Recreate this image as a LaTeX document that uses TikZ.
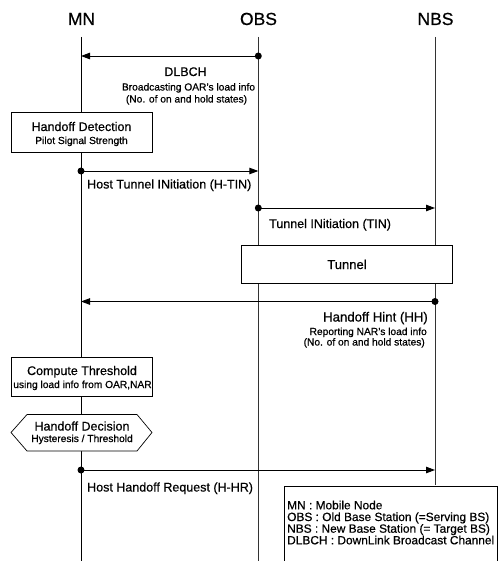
\documentclass[tikz,border=0pt]{standalone}
\usepackage{fontspec}
\setmainfont{Liberation Sans}[FakeBold=0.6]
\usetikzlibrary{arrows.meta}
\begin{document}
\begin{tikzpicture}[x=1pt,y=-1pt,
  head/.style={font=\fontsize{17.5}{20}\selectfont, inner sep=0, anchor=base},
  lbl/.style={font=\fontsize{12.5}{15}\selectfont, inner sep=0, anchor=base west},
  lblc/.style={font=\fontsize{12.5}{15}\selectfont, inner sep=0, anchor=base},
  sml/.style={font=\fontsize{10.2}{12}\selectfont, inner sep=0, anchor=base},
  leg/.style={font=\fontsize{11.9}{14}\selectfont, inner sep=0, anchor=base west},
  life/.style={line width=0.8pt},
  life2/.style={line width=0.6pt, black!80},
  box/.style={draw, line width=0.7pt, fill=white, inner sep=0},
  msg/.style={line width=0.9pt, -{Triangle[length=9pt,width=6.5pt]}},
  dot/.style={circle, fill=black, inner sep=0, minimum size=7pt},
]
\useasboundingbox (0,0) rectangle (498,561);
\clip (0,0) rectangle (498,561);
\fill[white] (0,0) rectangle (498,561);

% headers
\node[head] (hMN) at (81.5,25) {MN};
\node[head] (hOBS) at (258.5,25) {OBS};
\node[head] (hNBS) at (435.5,25) {NBS};

% lifeline coordinates
\coordinate (mnT) at (81,37);   \coordinate (mnB) at (81,561);
\coordinate (obT) at (258.3,37); \coordinate (obB) at (258.3,561);
\coordinate (nbT) at (435,37);  \coordinate (nbB) at (435,485);
\draw[life] (mnT) -- (mnB);
\draw[life2] (obT) -- (obB);
\draw[life2] (nbT) -- (nbB);

% boxes
\node[box, minimum width=141pt, minimum height=40pt] (hd) at (81.5,132) {};
\node[lblc] (hdt) at (81.5,131) {Handoff Detection};
\node[sml] (hds) at (81.5,144) {Pilot Signal Strength};

\node[box, minimum width=211pt, minimum height=38pt] (tun) at (346.5,264) {};
\node[font=\fontsize{13}{15}\selectfont, inner sep=0, anchor=base] (tunt) at (347,269) {Tunnel};

\node[box, minimum width=141pt, minimum height=39pt] (ct) at (81.5,376.5) {};
\node[lblc] (ctt) at (82,375) {Compute Threshold};
\node[sml] (cts) at (82.5,388) {using load info from OAR,NAR};

% hexagon
\coordinate (hx1) at (11,432.5);
\coordinate (hx2) at (27,414.5);
\coordinate (hx3) at (137,414.5);
\coordinate (hx4) at (152,432.5);
\coordinate (hx5) at (137,451);
\coordinate (hx6) at (27,451);
\filldraw[fill=white, line width=0.7pt] (hx1) -- (hx2) -- (hx3) -- (hx4) -- (hx5) -- (hx6) -- cycle;
\node[lblc] (hdd) at (82,430.5) {Handoff Decision};
\node[sml] (hds2) at (82,442) {Hysteresis / Threshold};

% messages
\coordinate (m1e) at (81,56);
\node[dot] (m1s) at (258.3,56) {};
\draw[msg] (m1s.center) -- (m1e);
\node[lblc] (m1a) at (185.5,76) {DLBCH};
\node[sml] (m1b) at (188.5,90.5) {Broadcasting OAR’s load info};
\node[sml] (m1c) at (186.5,102.5) {(No. of on and hold states)};

\coordinate (m2e) at (258.3,171);
\node[dot] (m2s) at (81,171) {};
\draw[msg] (m2s.center) -- (m2e);
\node[lbl] (m2a) at (87,188.5) {Host Tunnel INitiation (H-TIN)};

\coordinate (m3e) at (435,208);
\node[dot] (m3s) at (258.3,208) {};
\draw[msg] (m3s.center) -- (m3e);
\node[lbl] (m3a) at (269,228) {Tunnel INitiation (TIN)};

\coordinate (m4e) at (81,301.5);
\node[dot] (m4s) at (435,301.5) {};
\draw[msg] (m4s.center) -- (m4e);
\node[lblc, anchor=base east, font=\fontsize{13.2}{15}\selectfont] (m4a) at (428,321.5) {Handoff Hint (HH)};
\node[sml, anchor=base east] (m4b) at (427,335) {Reporting NAR’s load info};
\node[sml, anchor=base east] (m4c) at (425,345.5) {(No. of on and hold states)};

\coordinate (m5e) at (435,470);
\node[dot] (m5s) at (81,470) {};
\draw[msg] (m5s.center) -- (m5e);
\node[lbl] (m5a) at (87,491.5) {Host Handoff Request (H-HR)};

% legend
\node[draw, line width=1.6pt, fill=white, inner sep=0, minimum width=213pt, minimum height=110pt, anchor=north west] (legbox) at (283.5,485.5) {};
\node[leg] (l1) at (287,509.3) {MN : Mobile Node};
\node[leg] (l2) at (287,521) {OBS : Old Base Station (=Serving BS)};
\node[leg] (l3) at (287,532.7) {NBS : New Base Station (= Target BS)};
\node[leg] (l4) at (287,544.3) {DLBCH : DownLink Broadcast Channel};
\end{tikzpicture}
\end{document}
